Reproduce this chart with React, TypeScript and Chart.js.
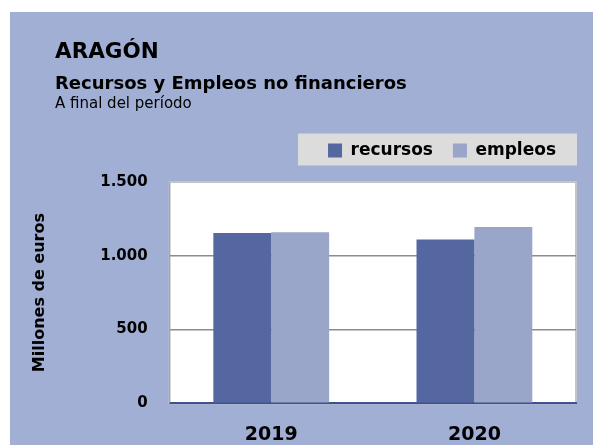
import React, { useEffect, useRef } from 'react';
import { Chart, registerables } from 'chart.js';

Chart.register(...registerables);

// ---- data ----
const categories = ['2019', '2020'];
const recursos = [1155, 1110];
const empleos = [1160, 1195];
const seriesNames = ['recursos', 'empleos'];
const yMin = 0;
const yMax = 1500;
const yStep = 500;
const titleText = 'ARAGÓN';
const subtitleText = 'Recursos y Empleos no financieros';
const noteText = 'A final del período';
const yAxisTitle = 'Millones de euros';

// ---- style ----
const FONT = "'DejaVu Sans', sans-serif";
const BG = '#a1afd4';
const C_RECURSOS = '#5567a1';
const C_EMPLEOS = '#99a6ca';
const W = 583;
const H = 433;
const LEGEND_GAP = 13;

const fmt = (v: number) => String(v).replace(/\B(?=(\d{3})+(?!\d))/g, '.');

const decorPlugin = {
  id: 'decor',
  beforeLayout(chart: any) {
    const lg = chart.legend;
    if (lg && !lg._gapPatched) {
      const orig = lg.fit.bind(lg);
      lg.fit = function () {
        orig();
        this.height += LEGEND_GAP;
      };
      lg._gapPatched = true;
    }
  },
  beforeDraw(chart: any) {
    const { ctx, chartArea } = chart;
    ctx.save();
    // plot area
    ctx.fillStyle = '#ffffff';
    ctx.fillRect(chartArea.left, chartArea.top, chartArea.right - chartArea.left, chartArea.bottom - chartArea.top);
    ctx.strokeStyle = '#c4c4c4';
    ctx.lineWidth = 2;
    ctx.strokeRect(chartArea.left, chartArea.top, chartArea.right - chartArea.left, chartArea.bottom - chartArea.top);
    // legend background
    const lg = chart.legend;
    if (lg && lg.legendHitBoxes && lg.legendHitBoxes.length) {
      const hb = lg.legendHitBoxes;
      const first = hb[0];
      const last = hb[hb.length - 1];
      const cy = first.top + first.height / 2;
      const x0 = first.left - 30;
      const x1 = last.left + last.width + 21;
      ctx.fillStyle = '#dcdcdc';
      ctx.fillRect(x0, cy - 17, x1 - x0, 32);
    }
    ctx.restore();
  },
};

export default function App() {
  const ref = useRef<HTMLCanvasElement>(null);

  useEffect(() => {
    if (!ref.current) return;
    const chart = new Chart(ref.current, {
      type: 'bar',
      data: {
        labels: categories,
        datasets: [
          { label: seriesNames[0], data: recursos, backgroundColor: C_RECURSOS, borderWidth: 0 },
          { label: seriesNames[1], data: empleos, backgroundColor: C_EMPLEOS, borderWidth: 0 },
        ],
      },
      options: {
        responsive: false,
        animation: false,
        maintainAspectRatio: false,
        layout: { padding: { left: 20, right: 17, top: 110, bottom: -21 } },
        datasets: { bar: { categoryPercentage: 0.57, barPercentage: 1.0 } },
        plugins: {
          tooltip: { enabled: false },
          title: { display: false },
          legend: {
            position: 'top',
            align: 'end',
            labels: {
              boxWidth: 14,
              boxHeight: 14,
              padding: 20,
              color: '#000000',
              font: { family: FONT, size: 17, weight: 'bold' },
            },
          },
        },
        scales: {
          x: {
            grid: { display: false, drawTicks: false },
            border: { display: true, color: '#3f5290', width: 2 },
            ticks: {
              padding: 20,
              color: '#000000',
              font: { family: FONT, size: 19, weight: 'bold' },
            },
          },
          y: {
            min: yMin,
            max: yMax,
            grid: {
              drawTicks: false,
              lineWidth: 1.5,
              color: (c: any) =>
                c.tick && c.tick.value === yMin
                  ? 'rgba(0,0,0,0)'
                  : c.tick && c.tick.value === yMax
                  ? '#c4c4c4'
                  : '#8c8c8c',
            },
            border: { display: true, color: '#a6a6a6', width: 1 },
            ticks: {
              stepSize: yStep,
              padding: 22,
              color: '#000000',
              font: { family: FONT, size: 15, weight: 'bold' },
              callback: (v: any) => fmt(Number(v)),
            },
            title: {
              display: true,
              text: yAxisTitle,
              color: '#000000',
              font: { family: FONT, size: 16, weight: 'bold' },
              padding: { top: 0, bottom: 29 },
            },
          },
        },
      },
      plugins: [decorPlugin],
    } as any);
    return () => chart.destroy();
  }, []);

  const textBase: React.CSSProperties = {
    position: 'absolute',
    left: 45,
    whiteSpace: 'nowrap',
    fontFamily: FONT,
    lineHeight: 1,
    color: '#000',
    margin: 0,
  };

  return (
    <div style={{ position: 'absolute', left: 10, top: 12, width: W, height: H, background: BG }}>
      <canvas ref={ref} width={W} height={H} style={{ position: 'absolute', left: 0, top: 0, width: W, height: H }} />
      <div style={{ ...textBase, top: 28, fontSize: 21.5, fontWeight: 'bold' }}>{titleText}</div>
      <div style={{ ...textBase, top: 62, fontSize: 18, fontWeight: 'bold' }}>{subtitleText}</div>
      <div style={{ ...textBase, top: 84, fontSize: 15, fontWeight: 'normal' }}>{noteText}</div>
    </div>
  );
}
